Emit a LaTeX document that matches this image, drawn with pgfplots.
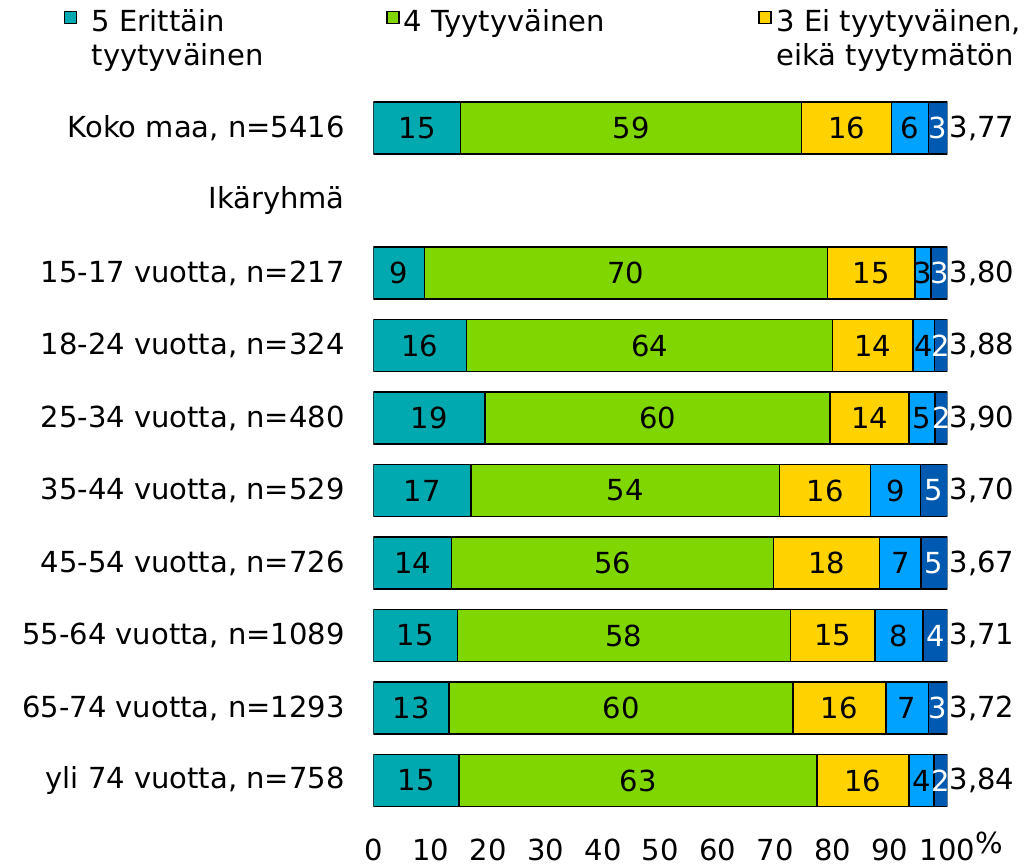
\documentclass[border=0pt]{standalone}
\usepackage{fontspec}
\setmainfont{DejaVu Sans}
\usepackage{pgfplots}
\usepackage{pgfplotstable}
\pgfplotsset{compat=1.18}

\definecolor{c5}{HTML}{00A9B0}
\definecolor{c4}{HTML}{80D600}
\definecolor{c3}{HTML}{FFD200}
\definecolor{c2}{HTML}{00A2FF}
\definecolor{c1}{HTML}{0059B0}

% row 9 = Koko maa, row 8 = Ikäryhmä (no bar), rows 7..0 = age groups
\pgfplotstableread{
row a b c d e la lb lc ld le val
9 15.2 59.4 15.7 6.4 3.3 15 59 16 6 3 3,77
7 8.9 70.2 15.3 2.8 2.8 9 70 15 3 3 3,80
6 16.2 63.8 14.0 3.8 2.2 16 64 14 4 2 3,88
5 19.4 60.2 13.7 4.6 2.1 19 60 14 5 2 3,90
4 17.0 53.8 15.8 8.7 4.7 17 54 16 9 5 3,70
3 13.6 56.1 18.5 7.2 4.6 14 56 18 7 5 3,67
2 14.6 58.1 14.7 8.4 4.2 15 58 15 8 4 3,71
1 13.2 59.9 16.2 7.4 3.3 13 60 16 7 3 3,72
0 14.9 62.4 16.0 4.4 2.3 15 63 16 4 2 3,84
}\tyyt

\newcommand\lbl{\fontsize{14.5}{17}\selectfont}

\begin{document}
\begin{tikzpicture}
\pgfplotsset{base/.style={width=286.9pt, height=362.5pt, scale only axis,
  xmin=0, xmax=100, ymin=-0.5, ymax=9.5}}
\path[use as bounding box] (-186.75pt,-24.125pt) rectangle (328.25pt,408.375pt);

\begin{axis}[base,
    xbar stacked, bar width=26pt,
    axis line style={draw=none}, major tick length=0pt,
    xtick={0,10,...,100}, ytick={0,...,9},
    yticklabels={{yli 74 vuotta, n=758},{65-74 vuotta, n=1293},{55-64 vuotta, n=1089},
      {45-54 vuotta, n=726},{35-44 vuotta, n=529},{25-34 vuotta, n=480},
      {18-24 vuotta, n=324},{15-17 vuotta, n=217},{Ikäryhmä},{Koko maa, n=5416}},
    tick label style={font=\lbl},
    xticklabel style={inner sep=0pt, anchor=north, yshift=-11pt},
    yticklabel style={inner sep=0pt, anchor=east, xshift=-14.25pt},
    /pgf/number format/assume math mode=true,
    xlabel={\%},
    xlabel style={at={(rel axis cs:1,0)}, anchor=west, inner sep=0pt,
      xshift=14pt, yshift=-13pt, font=\lbl},
    every axis plot/.append style={draw=black, line width=0.75pt}
]
\addplot[fill=c5] table[x=a, y=row] {\tyyt};
\addplot[fill=c4] table[x=b, y=row] {\tyyt};
\addplot[fill=c3] table[x=c, y=row] {\tyyt};
\addplot[fill=c2] table[x=d, y=row] {\tyyt};
\addplot[fill=c1] table[x=e, y=row] {\tyyt};
\end{axis}

% labels inside segments and mean values at the right
\begin{axis}[base, hide axis, clip=false,
    nodes near coords, point meta=explicit symbolic,
    every node near coord/.append style={font=\lbl, anchor=center, inner sep=0pt}]
\addplot[draw=none, mark=none] table[x expr=\thisrow{a}/2, y=row, meta=la] {\tyyt};
\addplot[draw=none, mark=none] table[x expr=\thisrow{a}+\thisrow{b}/2, y=row, meta=lb] {\tyyt};
\addplot[draw=none, mark=none] table[x expr=\thisrow{a}+\thisrow{b}+\thisrow{c}/2, y=row, meta=lc] {\tyyt};
\addplot[draw=none, mark=none] table[x expr=\thisrow{a}+\thisrow{b}+\thisrow{c}+\thisrow{d}/2, y=row, meta=ld] {\tyyt};
\addplot[draw=none, mark=none, every node near coord/.append style={text=white}]
  table[x expr=100-\thisrow{e}/2, y=row, meta=le] {\tyyt};
\addplot[draw=none, mark=none, every node near coord/.append style={anchor=west, xshift=1pt}]
  table[x expr=100, y=row, meta=val] {\tyyt};
\end{axis}

% legend
\begin{scope}[line width=0.75pt, every node/.style={font=\lbl, inner sep=0pt, anchor=base west}]
\draw[fill=c5] (-154.5pt,396.5pt) rectangle (-148.5pt,402.5pt);
\node at (-141.25pt,392.4pt) {5 Erittäin};
\node at (-141.25pt,375.6pt) {tyytyväinen};
\draw[fill=c4] (6.75pt,396.5pt) rectangle (12.75pt,402.5pt);
\node at (14.75pt,392.4pt) {4 Tyytyväinen};
\draw[fill=c3] (192.75pt,396.5pt) rectangle (198.75pt,402.5pt);
\node at (201.25pt,392.4pt) {3 Ei tyytyväinen,};
\node at (201.25pt,375.6pt) {eikä tyytymätön};
\end{scope}
\end{tikzpicture}
\end{document}
